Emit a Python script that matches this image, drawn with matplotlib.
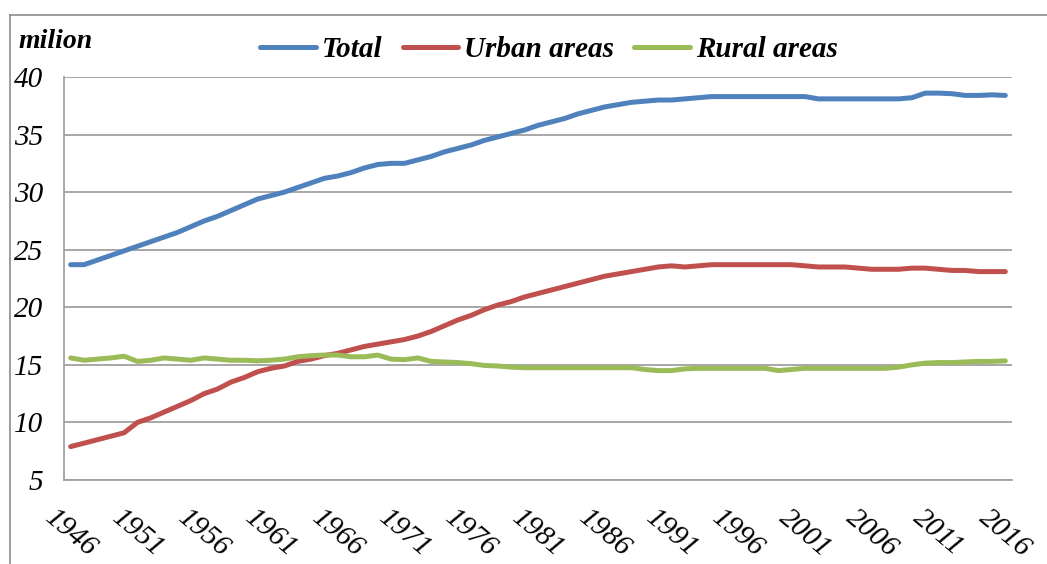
import numpy as np
import matplotlib
matplotlib.use('Agg')
import matplotlib.pyplot as plt
from matplotlib.lines import Line2D

plt.rcParams['font.family'] = ['Liberation Serif', 'DejaVu Serif']

# data (million people)
years = list(range(1946, 2017))
total = [23.7, 23.7, 24.1, 24.5, 24.9, 25.3, 25.7, 26.1, 26.5, 27.0,
         27.5, 27.9, 28.4, 28.9, 29.4, 29.7, 30.0, 30.4, 30.8, 31.2,
         31.4, 31.7, 32.1, 32.4, 32.5, 32.5, 32.8, 33.1, 33.5, 33.8,
         34.1, 34.5, 34.8, 35.1, 35.4, 35.8, 36.1, 36.4, 36.8, 37.1,
         37.4, 37.6, 37.8, 37.9, 38.0, 38.0, 38.1, 38.2, 38.3, 38.3,
         38.3, 38.3, 38.3, 38.3, 38.3, 38.3, 38.1, 38.1, 38.1, 38.1,
         38.1, 38.1, 38.1, 38.2, 38.6, 38.6, 38.55, 38.4, 38.4, 38.45,
         38.4]
urban = [7.9, 8.2, 8.5, 8.8, 9.1, 10.0, 10.4, 10.9, 11.4, 11.9,
         12.5, 12.9, 13.5, 13.9, 14.4, 14.7, 14.9, 15.3, 15.5, 15.8,
         16.0, 16.3, 16.6, 16.8, 17.0, 17.2, 17.5, 17.9, 18.4, 18.9,
         19.3, 19.8, 20.2, 20.5, 20.9, 21.2, 21.5, 21.8, 22.1, 22.4,
         22.7, 22.9, 23.1, 23.3, 23.5, 23.6, 23.5, 23.6, 23.7, 23.7,
         23.7, 23.7, 23.7, 23.7, 23.7, 23.6, 23.5, 23.5, 23.5, 23.4,
         23.3, 23.3, 23.3, 23.4, 23.4, 23.3, 23.2, 23.2, 23.1, 23.1,
         23.1]
rural = [15.6, 15.4, 15.5, 15.6, 15.75, 15.3, 15.4, 15.6, 15.5, 15.4,
         15.6, 15.5, 15.4, 15.4, 15.35, 15.4, 15.5, 15.7, 15.8, 15.85,
         15.85, 15.7, 15.7, 15.85, 15.5, 15.45, 15.6, 15.3, 15.25, 15.2,
         15.1, 14.95, 14.9, 14.8, 14.75, 14.75, 14.75, 14.75, 14.75, 14.75,
         14.75, 14.75, 14.75, 14.6, 14.5, 14.5, 14.65, 14.7, 14.7, 14.7,
         14.7, 14.7, 14.7, 14.5, 14.6, 14.7, 14.7, 14.7, 14.7, 14.7,
         14.7, 14.7, 14.8, 15.0, 15.15, 15.2, 15.2, 15.25, 15.3, 15.3,
         15.35]
yticks = [5, 10, 15, 20, 25, 30, 35, 40]

fig = plt.figure(figsize=(10.47, 5.64), dpi=100)
W, H = 1047, 564
ax = fig.add_axes([64 / W, 1 - 480 / H, (1012 - 64) / W, (480 - 77) / H])

x = np.arange(len(years))
ax.plot(x, total, color='#4F81BD', lw=3.6, solid_capstyle='round', label='Total')
ax.plot(x, urban, color='#C0504D', lw=3.6, solid_capstyle='round', label='Urban areas')
ax.plot(x, rural, color='#9BBB59', lw=3.6, solid_capstyle='round', label='Rural areas')

ax.set_xlim(-0.5, len(years) - 0.5)
ax.set_ylim(5, 40)
ax.set_yticks(yticks)
ax.set_yticklabels([str(v) for v in yticks], fontsize=21, style='italic')
xt = x[::5]
ax.set_xticks(xt)
ax.set_xticklabels([str(years[i]) for i in xt], fontsize=21, style='italic',
                   rotation=-40, ha='center', va='top')
ax.tick_params(axis='both', length=0)
ax.tick_params(axis='y', pad=15)
ax.tick_params(axis='x', pad=18)

ax.grid(axis='y', color='#A0A0A0', lw=1.3)
ax.set_axisbelow(True)
for s in ['top', 'right']:
    ax.spines[s].set_visible(False)
for s in ['left', 'bottom']:
    ax.spines[s].set_color('#A0A0A0')
    ax.spines[s].set_linewidth(1.3)

# outer frame of the chart
fig.add_artist(Line2D([10 / W, 1.0], [1 - 15 / H, 1 - 15 / H], color='#8C8C8C', lw=1.2))
fig.add_artist(Line2D([10 / W, 10 / W], [0, 1 - 15 / H], color='#8C8C8C', lw=1.2))

fig.text(18 / W, 1 - 41 / H, 'milion', fontsize=20, style='italic',
         weight='bold', ha='left', va='center')

fig.legend(loc='center', bbox_to_anchor=(549 / W, 1 - 50 / H), ncol=3,
           frameon=False, handlelength=1.9, handletextpad=0.2, columnspacing=0.7,
           prop={'size': 21, 'style': 'italic', 'weight': 'bold'})

plt.savefig('out.png', dpi=100)
